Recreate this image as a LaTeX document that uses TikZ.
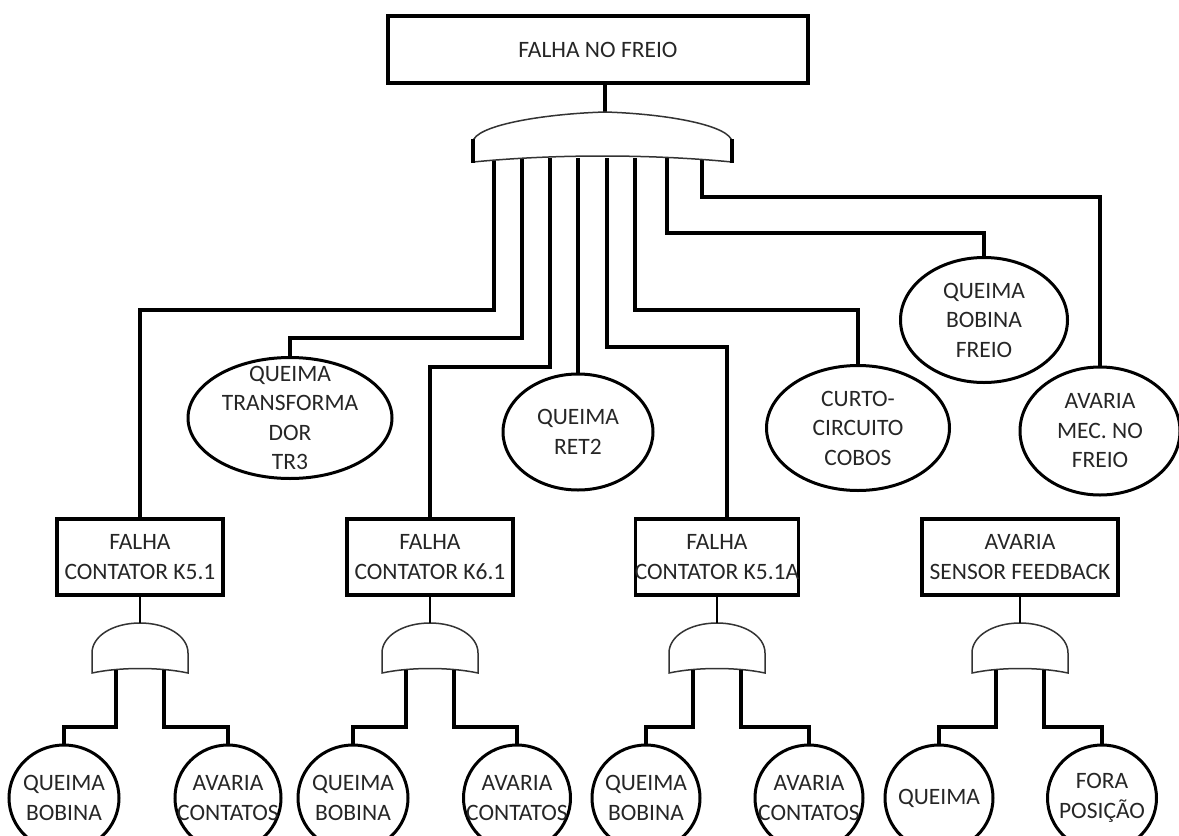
\documentclass[tikz,border=0pt]{standalone}
\usepackage{fontspec}
\setmainfont{Carlito}
\usetikzlibrary{shapes.geometric}

\tikzset{
  sgate/.pic={
    \draw[gateline,fill=white] (-48,50) -- (-48,30) .. controls (-48,13) and (-27,0) .. (0,0)
      .. controls (27,0) and (48,13) .. (48,30) -- (48,50) .. controls (20,44) and (-20,44) .. cycle;
    \coordinate (-top) at (0,0);
    \coordinate (-l) at (-24,47);
    \coordinate (-r) at (24,47);
  }
}

\begin{document}
\begin{tikzpicture}[x=1pt,y=-1pt,
  every node/.style={font=\fontsize{23.5}{29.5}\selectfont},
  every label/.style={align=center,text=black!85,inner sep=0pt},
  box/.style={draw,line width=3.5pt,minimum height=76,label={center:#1}},
  event/.style={ellipse,draw,line width=3pt,label={center:#1}},
  wire/.style={line width=4pt},
  stem/.style={line width=2pt},
  gateline/.style={line width=1.5pt,black!80}]
  \useasboundingbox (0,0) rectangle (1179,836);

  % top event
  \node[box={FALHA NO FREIO},minimum width=420,minimum height=67] (top) at (598,49.5) {};

  % basic events under the main gate
  \node[event={QUEIMA\\TRANSFORMA\\DOR\\TR3},minimum width=204,minimum height=121] (tr3) at (290,418) {};
  \node[event={QUEIMA\\RET2},minimum width=150,minimum height=116] (ret2) at (578,432) {};
  \node[event={CURTO-\\CIRCUITO\\COBOS},minimum width=183,minimum height=125] (curto) at (858,428) {};
  \node[event={QUEIMA\\BOBINA\\FREIO},minimum width=167,minimum height=125] (bfreio) at (984,320) {};
  \node[event={AVARIA\\MEC. NO\\FREIO},minimum width=160,minimum height=128] (mec) at (1100,431) {};

  % intermediate events
  \node[box={FALHA\\CONTATOR K5.1},minimum width=166] (k51) at (140,557) {};
  \node[box={FALHA\\CONTATOR K6.1},minimum width=166] (k61) at (430,557) {};
  \node[box={FALHA\\CONTATOR K5.1A},minimum width=163] (k51a) at (717,557) {};
  \node[box={AVARIA\\SENSOR FEEDBACK},minimum width=196] (sens) at (1020,557) {};

  % bottom events
  \node[event={QUEIMA\\BOBINA},minimum width=110,minimum height=106] (q1) at (64,798) {};
  \node[event={AVARIA\\CONTATOS},minimum width=106,minimum height=106] (a1) at (228,798) {};
  \node[event={QUEIMA\\BOBINA},minimum width=110,minimum height=106] (q2) at (353,798) {};
  \node[event={AVARIA\\CONTATOS},minimum width=107,minimum height=106] (a2) at (517,798) {};
  \node[event={QUEIMA\\BOBINA},minimum width=108,minimum height=106] (q3) at (646,798) {};
  \node[event={AVARIA\\CONTATOS},minimum width=108,minimum height=106] (a3) at (809,798) {};
  \node[event={QUEIMA},minimum width=108,minimum height=106] (q4) at (939,798) {};
  \node[event={FORA\\POSIÇÃO},minimum width=109,minimum height=106] (f4) at (1102,798) {};

  % main gate
  \coordinate (g) at (605,112);
  \foreach \x [count=\i] in {494,522,550,578,607,635,667,702}
    \coordinate (g-\i) at (\x,158);

  \draw[wire] (g |- top.south) -- (g);
  \draw[wire] (g-1) -- ++(0,152) -| (k51.north);
  \draw[wire] (g-2) -- ++(0,180) -| (tr3.north);
  \draw[wire] (g-3) -- ++(0,209) -| (k61.north);
  \draw[wire] (g-4) -- (ret2.north);
  \draw[wire] (g-5) -- ++(0,189) -| ([xshift=10pt]k51a.north);
  \draw[wire] (g-6) -- ++(0,152) -| (curto.north);
  \draw[wire] (g-7) -- ++(0,75) -| (bfreio.north);
  \draw[wire] (g-8) -- ++(0,39) -| (mec.north);

  \draw[gateline,fill=white] (473,162) -- (473,142) .. controls (474,126) and (540,114) .. (g)
    .. controls (670,114) and (731,126) .. (732,142) -- (732,162)
    .. controls (650,154) and (555,154) .. cycle;
  \draw[line width=4pt] (473,139) -- (473,163) (732,139) -- (732,163);

  % lower gates
  \pic (s1) at (k51.south |- 0,623) {sgate};
  \pic (s2) at (k61.south |- 0,623) {sgate};
  \pic (s3) at (k51a.south |- 0,623) {sgate};
  \pic (s4) at (sens.south |- 0,623) {sgate};

  \draw[stem] (k51.south) -- (s1-top);
  \draw[stem] (k61.south) -- (s2-top);
  \draw[stem] (k51a.south) -- (s3-top);
  \draw[stem] (sens.south) -- (s4-top);

  \draw[wire] (s1-l) -- ++(0,57) -| (q1.north);
  \draw[wire] (s1-r) -- ++(0,57) -| (a1.north);
  \draw[wire] (s2-l) -- ++(0,57) -| (q2.north);
  \draw[wire] (s2-r) -- ++(0,57) -| (a2.north);
  \draw[wire] (s3-l) -- ++(0,57) -| (q3.north);
  \draw[wire] (s3-r) -- ++(0,57) -| (a3.north);
  \draw[wire] (s4-l) -- ++(0,57) -| (q4.north);
  \draw[wire] (s4-r) -- ++(0,57) -| (f4.north);
\end{tikzpicture}
\end{document}
